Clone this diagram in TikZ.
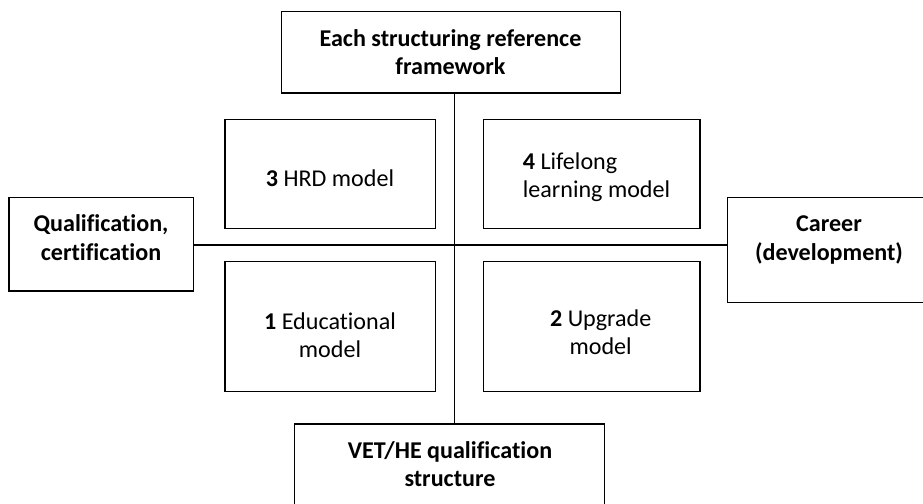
\documentclass[tikz,border=0pt]{standalone}
\usepackage{fontspec}
\setmainfont{Carlito}[Ligatures=NoCommon]
\begin{document}
\begin{tikzpicture}[x=1pt,y=-1pt,
  box/.style={draw=black, line width=1.5pt, rectangle, inner sep=0pt, fill=white},
  conn/.style={draw=black, line width=1.5pt},
  txt/.style={anchor=base, inner sep=0pt, font=\fontsize{24.1}{28}\selectfont},
  txtl/.style={anchor=base west, inner sep=0pt, font=\fontsize{24.1}{28}\selectfont}]
\useasboundingbox[fill=white] (0,0) rectangle (923,503);
% boxes
\node[box, minimum width=339pt, minimum height=81.3pt] (top) at (451.2,52.3) {};
\node[box, minimum width=184.3pt, minimum height=93.7pt] (left) at (101.2,244.2) {};
\node[box, minimum width=203.7pt, minimum height=105pt] (right) at (829.2,250.2) {};
\node[box, minimum width=310pt, minimum height=91pt] (bot) at (449.5,469.5) {};
\node[box, minimum width=210.7pt, minimum height=109pt] (hrd) at (330.3,173.8) {};
\node[box, minimum width=216.7pt, minimum height=109pt] (life) at (591.7,173.8) {};
\node[box, minimum width=210.7pt, minimum height=130pt] (edu) at (330.3,326.7) {};
\node[box, minimum width=216.7pt, minimum height=130pt] (upg) at (591.7,326.7) {};
% connector axes
\coordinate (vx) at (454.5,0);
\coordinate (hy) at (0,245);
\draw[conn] (top.south -| vx) -- (bot.north -| vx);
\draw[conn] (left.east |- hy) -- (right.west |- hy);
% texts
\node[txt] (t1) at (450.5,46.7) {\textbf{Each structuring reference}};
\node[txt] (t2) at (450.5,74.2) {\textbf{framework}};
\node[txt] (l1) at (101,231.7) {\textbf{Qualification,}};
\node[txt] (l2) at (101,260) {\textbf{certification}};
\node[txt] (r1) at (829,231.7) {\textbf{Career}};
\node[txt] (r2) at (829,260) {\textbf{(development)}};
\node[txt] (b1) at (450,458.3) {\textbf{VET/HE qualification}};
\node[txt] (b2) at (450,486) {\textbf{structure}};
\node[txt] (h1) at (330,186) {\textbf{3} HRD model};
\node[txtl] (f1) at (522.7,169.3) {\textbf{4} Lifelong};
\node[txtl] (f2) at (522.7,197.3) {learning model};
\node[txt] (e1) at (330,329) {\textbf{1} Educational};
\node[txt] (e2) at (330,357.3) {model};
\node[txt] (u1) at (600.7,326) {\textbf{2} Upgrade};
\node[txt] (u2) at (600.7,354.5) {model};
\end{tikzpicture}
\end{document}
